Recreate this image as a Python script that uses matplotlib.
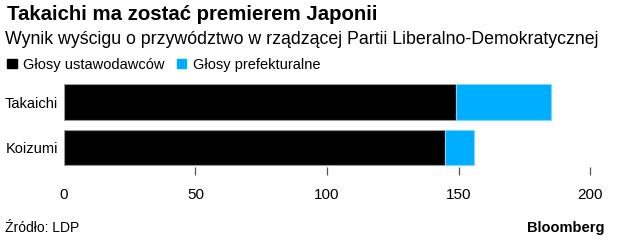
import matplotlib
matplotlib.use("Agg")
import matplotlib.pyplot as plt
from matplotlib.patches import Patch

# --- data ---
candidates = ["Koizumi", "Takaichi"]
lawmaker_votes = [145, 149]
prefectural_votes = [11, 36]
x_ticks = [0, 50, 100, 150, 200]

BLACK = "#000000"
BLUE = "#00AEFF"

plt.rcParams["font.family"] = ["Liberation Sans", "DejaVu Sans"]

W, H = 618, 246
fig = plt.figure(figsize=(W / 100, H / 100), dpi=100)
fig.patch.set_facecolor("white")

# axes placed in pixel terms
left, right, top, bottom = 63.7, 590.3, 84, 167
ax = fig.add_axes([left / W, 1 - bottom / H, (right - left) / W, (bottom - top) / H])

ypos = list(range(len(candidates)))
ax.barh(ypos, lawmaker_votes, height=0.79, color=BLACK,
        edgecolor="#999999", linewidth=0.8)
ax.barh(ypos, prefectural_votes, left=lawmaker_votes, height=0.79,
        color=BLUE, edgecolor="#7fd3ff", linewidth=0.8)

ax.set_xlim(0, 200)
ax.set_ylim(-0.43, 1.40)
ax.set_yticks(ypos)
ax.set_yticklabels(candidates, fontsize=10.5)
ax.set_xticks(x_ticks)
ax.set_xticklabels([str(t) for t in x_ticks], fontsize=11)
for s in ax.spines.values():
    s.set_visible(False)
ax.tick_params(axis="y", length=0, pad=4)
ax.tick_params(axis="x", length=6, width=0.9, color="#555555", pad=9)
ax.xaxis.get_major_ticks()[0].tick1line.set_visible(False)

# title block
fig.text(7 / W, 1 - 15 / H, "Takaichi ma zostać premierem Japonii",
         fontsize=14.7, fontweight="bold", va="center", ha="left")
fig.text(5 / W, 1 - 40 / H,
         "Wynik wyścigu o przywództwo w rządzącej Partii Liberalno-Demokratycznej",
         fontsize=12.75, va="center", ha="left")

handles = [Patch(color=BLACK, label="Głosy ustawodawców"),
           Patch(color=BLUE, label="Głosy prefekturalne")]
fig.legend(handles=handles, loc="center left", bbox_to_anchor=(3 / W, 1 - 64.5 / H),
           ncol=2, frameon=False, fontsize=10.5, handlelength=0.65, handleheight=0.65,
           handletextpad=0.45, columnspacing=0.8, borderaxespad=0, borderpad=0.3)

fig.text(5 / W, 1 - 228 / H, "Źródło: LDP", fontsize=10, va="center", ha="left")
fig.text(604 / W, 1 - 228 / H, "Bloomberg", fontsize=10.5, fontweight="bold",
         va="center", ha="right")

fig.savefig("out.png", dpi=100)
